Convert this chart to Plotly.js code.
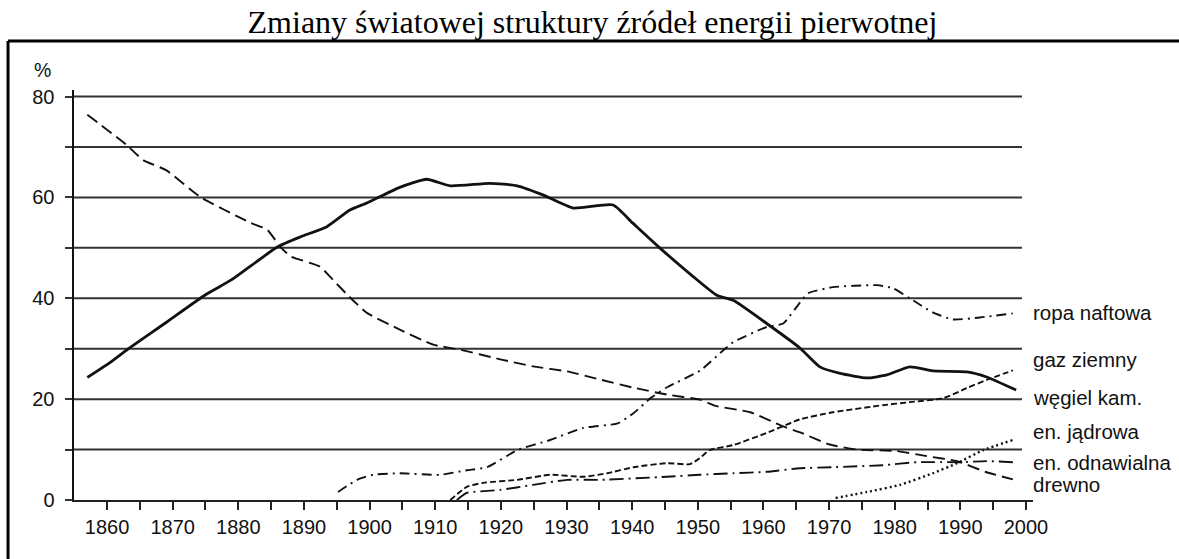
<!DOCTYPE html>
<html>
<head>
<meta charset="utf-8">
<script src="https://cdn.plot.ly/plotly-3.0.1.min.js"></script>
<style>html,body{margin:0;padding:0;background:#fff;}#chart{width:1179px;height:559px;}</style>
</head>
<body>
<div id="chart"></div>
<script>
// ---- data ----
const titleText = "Zmiany światowej struktury źródeł energii pierwotnej";
const yUnit = "%";
const xTickYears = [1860,1865,1870,1875,1880,1885,1890,1895,1900,1905,1910,1915,1920,1925,1930,1935,1940,1945,1950,1955,1960,1965,1970,1975,1980,1985,1990,1995,2000];
const xTickLabels = ["1860","","1870","","1880","","1890","","1900","","1910","","1920","","1930","","1940","","1950","","1960","","1970","","1980","","1990","","2000"];
const yTickVals = [0,10,20,30,40,50,60,70,80];
const yTickLabels = ["0","","20","","40","","60","","80"];

const seriesNames = ["ropa naftowa","gaz ziemny","węgiel kam.","en. jądrowa","en. odnawialna","drewno"];
const labelY = [37.1, 27.8, 20.4, 13.6, 7.5, 3.1];

const oilYears = [1895.2,1898.1,1900.5,1904.6,1910.7,1914.8,1917.9,1922.5,1927.5,1932.6,1937.8,1940.2,1942.8,1945.4,1950.4,1953.9,1955.4,1960.5,1963,1965.6,1966.8,1970.6,1977.3,1979.7,1982.3,1985.8,1988.9,1993,1998];
const oilValues = [1.6,4,5,5.3,5,5.9,6.5,9.9,11.9,14.3,15.2,17.2,20.2,22.4,25.7,29.7,31.3,34.3,35,39.2,41,42.2,42.6,42,40,37.2,35.8,36.2,37];

const gasYears = [1912.3,1914.8,1917.3,1922.5,1927.5,1932.6,1936.2,1940.2,1945.3,1948.8,1950.3,1951.8,1955.4,1960.5,1965.6,1970.6,1978.2,1982.3,1987.4,1991,1994,1998];
const gasValues = [0,2.6,3.4,4,5,4.6,5.3,6.5,7.3,7.1,8.3,9.9,10.9,13.3,16,17.4,18.8,19.4,20.2,22.2,23.8,25.7];

const coalYears = [1857,1860.5,1863.5,1869,1875,1879,1886,1889.5,1893.5,1897,1899.6,1904.6,1908.7,1912.3,1918.3,1922.5,1926.4,1931,1937.1,1940.1,1944.2,1949.3,1952.9,1955.4,1960.5,1965.6,1968.6,1971.7,1975.8,1978.8,1982.3,1985.8,1991,1994,1998.5];
const coalValues = [24.3,27.3,30.2,35.2,40.7,43.7,50.2,52.2,54.2,57.5,58.9,62,63.6,62.3,62.8,62.3,60.5,57.9,58.5,54.9,50,44.3,40.6,39.6,35,30.1,26.4,25.1,24.2,24.8,26.4,25.6,25.4,24.4,21.8];

const nuclearYears = [1971,1975.8,1980.8,1985.8,1989.5,1993.5,1998];
const nuclearValues = [0.4,1.6,3,5.3,7.3,9.9,11.9];

const renewYears = [1913.3,1914.8,1919.9,1924.9,1930.1,1935.1,1945.3,1950.3,1955.4,1960.5,1965.6,1970.6,1978.2,1983.4,1990,1994,1998];
const renewValues = [0,1.4,2,3,4,4,4.6,5,5.3,5.6,6.3,6.5,6.9,7.5,7.5,7.7,7.5];

const woodYears = [1857,1863,1865.5,1869,1874.2,1881.8,1884.4,1886.4,1888,1892.4,1894.4,1896.6,1899.6,1904.6,1909.7,1913.8,1919.9,1924.9,1930.1,1935.1,1940.1,1945.3,1950.3,1952.9,1958,1963,1965.6,1970.1,1974.3,1980.3,1984.9,1989.5,1994,1998];
const woodValues = [76.4,70.4,67.4,65.4,60.1,55,53.6,50.2,48.3,46.3,43.7,40.7,37.1,33.8,30.8,29.8,27.9,26.5,25.5,23.9,22.3,20.9,19.9,18.6,17.4,14.6,13.4,11,10,9.7,8.7,7.7,5.5,4.1];

// ---- traces ----
function tr(x, y, name, dash, width) {
  return {x: x, y: y, name: name, type: "scatter", mode: "lines",
    line: {color: "#111", width: width, dash: dash, shape: "spline", smoothing: 0.5},
    hoverinfo: "skip"};
}
const traces = [
  tr(oilYears, oilValues, seriesNames[0], "10px,5px,2px,5px", 1.9),
  tr(gasYears, gasValues, seriesNames[1], "6px,3px", 1.9),
  tr(coalYears, coalValues, seriesNames[2], "solid", 2.8),
  tr(nuclearYears, nuclearValues, seriesNames[3], "2px,3px", 2.4),
  tr(renewYears, renewValues, seriesNames[4], "14px,5px,2px,5px", 1.9),
  tr(woodYears, woodValues, seriesNames[5], "12px,6px", 1.9)
];

// ---- layout ----
const shapes = [];
yTickVals.forEach(function(v){
  if (v === 0) return;
  shapes.push({type:"line", xref:"paper", yref:"y", x0:0, x1:0.9885, y0:v, y1:v,
    line:{color:"#333", width:2}, layer:"below"});
});
// outer frame (top and left)
shapes.push({type:"line", xref:"paper", yref:"paper", x0:-0.0688, x1:1.16, y0:1.1195, y1:1.1195, line:{color:"#000", width:3}});
shapes.push({type:"line", xref:"paper", yref:"paper", x0:-0.0688, x1:-0.0688, y0:1.1195, y1:-0.16, line:{color:"#000", width:3}});

const annotations = seriesNames.map(function(n, i){
  return {text: n, xref:"paper", yref:"y", x:0.9975, y:labelY[i], xanchor:"left", yanchor:"middle",
    showarrow:false, font:{family:"Liberation Sans, Arial, sans-serif", size:20.5, color:"#111"}};
});
annotations.push({text: yUnit, xref:"paper", yref:"paper", x:-0.0215, y:1.049, xanchor:"right", yanchor:"middle",
  showarrow:false, font:{family:"Liberation Sans, Arial, sans-serif", size:19.5, color:"#111"}});

const layout = {
  width: 1179, height: 559,
  margin: {l:74, r:146, t:90, b:59, pad:0},
  paper_bgcolor: "#fff", plot_bgcolor: "#fff",
  showlegend: false,
  title: {text: titleText, x: 592.5/1179, xanchor: "center", xref: "container", yref: "container",
    y: 1 - 22/559, yanchor: "middle",
    font: {family: "Liberation Serif, Times New Roman, serif", size: 32, color: "#000"}},
  xaxis: {range: [1854.97, 2001.07], showgrid:false, zeroline:false,
    showline:true, linecolor:"#222", linewidth:2,
    tickmode:"array", tickvals: xTickYears, ticktext: xTickLabels,
    ticks:"outside", ticklen:8, tickwidth:2, tickcolor:"#222",
    tickfont:{family:"Liberation Sans, Arial, sans-serif", size:20, color:"#111"}},
  yaxis: {range: [0, 81.3], showgrid:false, zeroline:false,
    showline:true, linecolor:"#111", linewidth:2.5,
    tickmode:"array", tickvals: yTickVals, ticktext: yTickLabels,
    ticks:"outside", ticklen:7, tickwidth:2, tickcolor:"#333",
    ticklabelstandoff: 6,
    tickfont:{family:"Liberation Sans, Arial, sans-serif", size:20, color:"#111"}},
  shapes: shapes,
  annotations: annotations
};

Plotly.newPlot("chart", traces, layout, {staticPlot:true, displayModeBar:false});
</script>
</body>
</html>
